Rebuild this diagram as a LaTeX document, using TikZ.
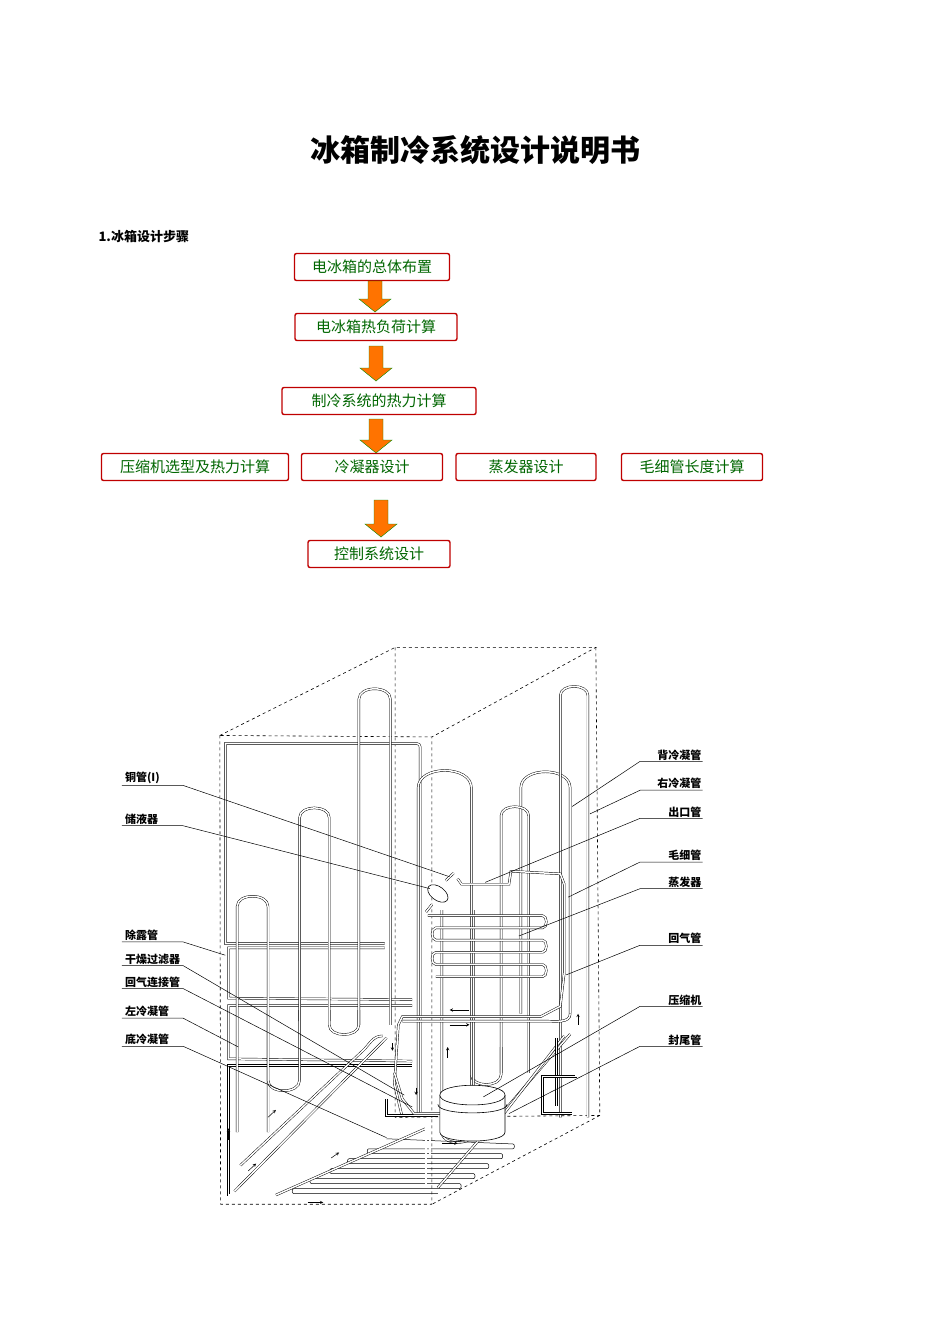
\documentclass[tikz,border=0pt]{standalone}
\usepackage{fontspec}
\setmainfont{Noto Sans CJK SC}
\begin{document}
\begin{tikzpicture}[x=1pt,y=-1pt,
  fbox/.style={draw=red!75!black,line width=1.4pt,rounded corners=2pt,fill=white,text=green!40!black,font=\fontsize{15}{15}\selectfont,inner xsep=3pt,minimum height=27pt},
  pipe/.style={draw=black,line width=0.45pt,double=white,double distance=1.5pt},
  dbox/.style={dashed,line width=0.6pt},
  lbl/.style={font=\fontsize{11}{11}\selectfont\bfseries,inner sep=1pt},
  lead/.style={line width=0.5pt}]
\useasboundingbox (0,0) rectangle (950,1344);
\node (title) at (475,150) {\fontsize{30}{30}\selectfont\bfseries 冰箱制冷系统设计说明书};
\node[anchor=west,font=\fontsize{13}{13}\selectfont\bfseries] (sec) at (95,237) {1.冰箱设计步骤};
% flowchart
\node[fbox,minimum width=155pt] (b1) at (372,267) {电冰箱的总体布置};
\node[fbox,minimum width=162pt] (b2) at (376,327) {电冰箱热负荷计算};
\node[fbox,minimum width=194pt] (b3) at (379,401) {制冷系统的热力计算};
\node[fbox,minimum width=187pt] (c1) at (195,467) {压缩机选型及热力计算};
\node[fbox,minimum width=141pt] (c2) at (372,467) {冷凝器设计};
\node[fbox,minimum width=140pt] (c3) at (526,467) {蒸发器设计};
\node[fbox,minimum width=141pt] (c4) at (692,467) {毛细管长度计算};
\node[fbox,minimum width=142pt] (b5) at (379,554) {控制系统设计};
\newcommand\farrow[3]{\fill[orange!90!red,draw=green!55!black,line width=0.4pt]
 (#1-7,#2) -- (#1+7,#2) -- (#1+7,#3-13) -- (#1+16,#3-13) -- (#1,#3) -- (#1-16,#3-13) -- (#1-7,#3-13) -- cycle;}
\farrow{375}{281}{312}
\farrow{376}{346}{381}
\farrow{376}{419}{453}
\farrow{381}{500}{537}
% refrigerator drawing
\begin{scope}[shift={(110,640)},xscale=0.395,yscale=0.37]
\draw[dbox] (278,258) -- (722,20) -- (1230,20) -- (815,262) -- cycle;
\draw[dbox] (278,258) -- (280,1525) -- (815,1525) -- (815,262);
\draw[dbox] (1230,20) -- (1240,1285) -- (815,1525);
\draw[dbox] (722,20) -- (722,1290) -- (1240,1285);
% left face frame and tubes
\draw[pipe] (695,820) -- (292,820) -- (292,280) [rounded corners=3pt] -- (785,280) -- (785,1275);
\draw[pipe] (695,832) -- (300,832) -- (300,968) -- (765,972);
\draw[pipe] (765,988) -- (300,988) -- (300,1132) -- (765,1138);
\draw[pipe] (765,1150) -- (300,1150) -- (300,1500) -- (420,1500);
\newcommand\hp[4]{\draw[pipe] (#1,#4) -- (#1,#3) to[out=90,in=90,looseness=1.2] (#2,#3) -- (#2,#4);}
\newcommand\hpd[4]{\draw[pipe] (#1,#3) -- (#1,#4) to[out=-90,in=-90,looseness=1.2] (#2,#4) -- (#2,#3);}
\hp{630}{710}{160}{1040}
\hp{480}{555}{480}{1030}
\hp{322}{400}{720}{1330}
\hpd{555}{630}{1000}{1040}
\hpd{400}{480}{1000}{1190}
\hp{780}{915}{400}{1290}
\hp{1040}{1165}{400}{1010}
\hp{990}{1060}{475}{1170}
\hp{1140}{1210}{150}{1290}
\hpd{915}{990}{1100}{1175}
\hpd{840}{920}{730}{1330}
\draw[pipe] (1165,1010) to[out=-90,in=0] (1100,1030) -- (740,1030);
% evaporator serpentine
\draw[pipe] (805,745) -- (1095,745)
  to[out=0,in=0] (1095,778) -- (825,778) to[out=180,in=180] (825,811) -- (1095,811)
  to[out=0,in=0] (1095,844) -- (825,844) to[out=180,in=180] (825,877) -- (1095,877)
  to[out=0,in=0] (1095,910) -- (825,910);
% outlet & capillary
\draw[pipe] (880,645) -- (890,660) -- (1010,660) -- (1015,625) -- (1140,632) -- (1150,660) -- (1150,900) -- (1140,990) -- (1090,1018) -- (740,1018) -- (730,1040) -- (720,1200) -- (740,1290);
\draw[line width=0.6pt,fill=white,rotate around={-40:(830,685)}] (830,685) ellipse [x radius=30pt,y radius=18pt];
\draw[pipe] (815,715) -- (800,735);
\draw[pipe] (850,650) -- (870,630);
% bottom condenser
\draw[line width=0.5pt] (700,1348) -- (1020,1362) to[out=0,in=0] (1020,1375) -- (655,1375) to[out=180,in=180] (655,1388) -- (990,1388) to[out=0,in=0] (990,1402) -- (605,1402) to[out=180,in=180] (605,1415) -- (955,1415) to[out=0,in=0] (955,1429) -- (560,1429) to[out=180,in=180] (560,1442) -- (920,1442) to[out=0,in=0] (920,1456) -- (510,1456) to[out=180,in=180] (510,1469) -- (885,1469) to[out=0,in=0] (885,1483) -- (465,1483) to[out=180,in=180] (465,1496) -- (830,1496);
\draw[pipe] (315,1490) -- (700,1075);
\draw[pipe] (330,1420) -- (640,1110) to[out=45,in=180] (690,1070);
\draw[pipe] (420,1500) -- (800,1320);
\draw[pipe] (830,1480) -- (1165,1065);
\draw[pipe] (950,1345) -- (1150,1070);
\draw[pipe] (800,1300) -- (800,1470);
\draw[pipe] (810,1290) -- (810,1400);
\draw[pipe] (1130,1075) -- (1130,1260);
\draw[pipe] (1180,1060) -- (1180,1180) -- (1095,1180) -- (1095,1280) -- (1170,1280);
\draw[pipe] (700,1240) -- (700,1285) -- (830,1285);
\draw[pipe] (720,1170) -- (740,1240) -- (770,1280) -- (860,1280);
% small arrows
\foreach \a/\b in {{(910,1000)/(860,1000)},{(860,1040)/(910,1040)},{(855,1130)/(855,1100)},{(1185,1040)/(1185,1010)},{(300,1350)/(300,1320)},{(400,1290)/(420,1270)},{(560,1400)/(580,1385)},{(840,1360)/(880,1360)},{(500,1520)/(540,1520)},{(350,1435)/(370,1415)},{(715,1090)/(715,1110)},{(775,1210)/(775,1230)}}
  \draw[-stealth,line width=0.5pt] \a -- \b;
% compressor
\draw[line width=0.6pt,fill=white] (835,1230) -- (835,1330) to[out=-90,in=-90,looseness=0.5] (1000,1330) -- (1000,1230);
\draw[line width=0.6pt,fill=white] (835,1230) to[out=90,in=90,looseness=0.55] (1000,1230) to[out=-90,in=-90,looseness=0.55] (835,1230);
\draw[line width=0.6pt] (830,1255) to[out=-90,in=-90,looseness=0.45] (1005,1255);
% labels left
\newcommand\lftlbl[5]{\node[lbl,anchor=south west] (#1) at (35,#3) {#2}; \draw[lead] (30,#3) -- (185,#3) -- (#4,#5);}
\lftlbl{t1}{铜管(I)}{393}{860}{640}
\lftlbl{t2}{储液器}{502}{810}{672}
\lftlbl{t3}{除露管}{816}{292}{852}
\lftlbl{t4}{干燥过滤器}{880}{745}{1230}
\lftlbl{t5}{回气连接管}{942}{765}{1262}
\lftlbl{t6}{左冷凝管}{1022}{325}{1100}
\lftlbl{t7}{底冷凝管}{1098}{700}{1345}
% labels right
\newcommand\rgtlbl[5]{\node[lbl,anchor=south east] (#1) at (1500,#3) {#2}; \draw[lead] (1500,#3) -- (1342,#3) -- (#4,#5);}
\rgtlbl{r1}{背冷凝管}{328}{1170}{450}
\rgtlbl{r2}{右冷凝管}{406}{1215}{470}
\rgtlbl{r3}{出口管}{482}{950}{655}
\rgtlbl{r4}{毛细管}{600}{1160}{695}
\rgtlbl{r5}{蒸发器}{672}{1035}{800}
\rgtlbl{r6}{回气管}{825}{1155}{905}
\rgtlbl{r7}{压缩机}{990}{945}{1235}
\rgtlbl{r8}{封尾管}{1098}{1010}{1280}
\end{scope}
\end{tikzpicture}
\end{document}
